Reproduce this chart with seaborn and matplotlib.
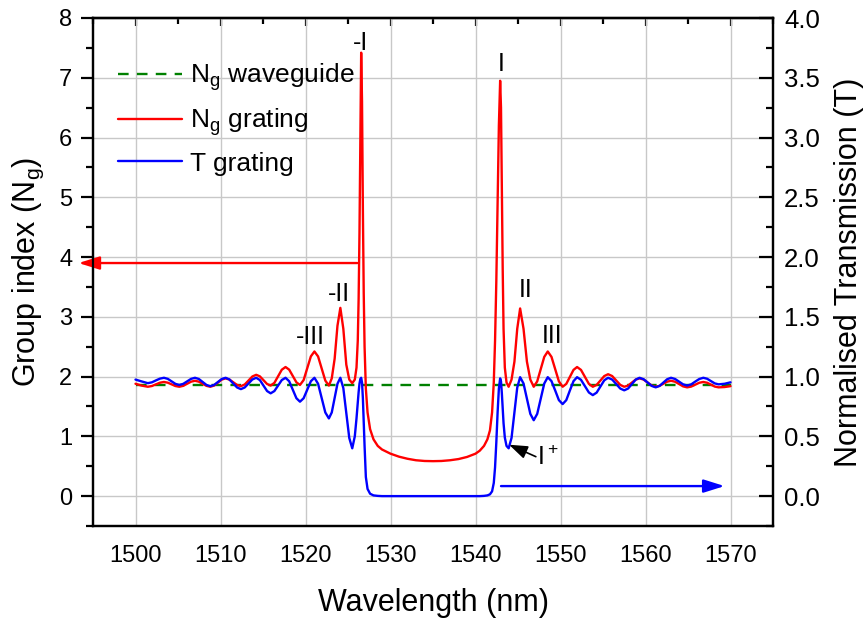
import matplotlib
matplotlib.use("Agg")
import matplotlib.pyplot as plt
import pandas as pd
import seaborn as sns
from matplotlib.ticker import MultipleLocator, FormatStrFormatter

# ---------------------------------------------------------------- data
# wavelength grid (nm) shared by the grating group index and transmission
wavelength = [
    1500.0, 1500.7, 1501.45, 1501.93, 1502.40, 1502.88, 1503.35, 1503.80, 1504.25, 1504.70,
    1505.15, 1505.61, 1506.08, 1506.54, 1507.0, 1507.45, 1507.9, 1508.35, 1508.8, 1509.25,
    1509.7, 1510.15, 1510.6, 1511.05, 1511.5, 1511.95, 1512.4, 1512.85, 1513.3, 1513.75,
    1514.2, 1514.63, 1515.05, 1515.48, 1515.9, 1516.34, 1516.78, 1517.21, 1517.65, 1518.08,
    1518.5, 1518.93, 1519.35, 1519.78, 1520.2, 1520.63, 1521.05, 1521.48, 1521.9, 1522.33,
    1522.75, 1523.09, 1523.43, 1523.76, 1524.1, 1524.45, 1524.8, 1525.15, 1525.5,
    1525.8, 1526.0, 1526.15, 1526.25, 1526.35, 1526.45, 1526.55, 1526.65, 1526.75, 1526.85,
    1526.95, 1527.1, 1527.3, 1527.6, 1528.0, 1528.5, 1529.0, 1530.0, 1531.0, 1532.0,
    1533.0, 1534.0, 1535.0, 1536.0, 1537.0, 1538.0, 1539.0, 1540.0, 1540.5, 1541.0,
    1541.4, 1541.7, 1541.95, 1542.15, 1542.3, 1542.45, 1542.6, 1542.75, 1542.9, 1543.0,
    1543.1, 1543.2, 1543.3, 1543.45, 1543.65, 1543.9,
    1544.24, 1544.58, 1544.91, 1545.25, 1545.65, 1546.05, 1546.45, 1546.85, 1547.26, 1547.68,
    1548.09, 1548.5, 1548.94, 1549.38, 1549.81, 1550.25, 1550.68, 1551.1, 1551.53, 1551.95,
    1552.41, 1552.88, 1553.34, 1553.8, 1554.25, 1554.7, 1555.15, 1555.6, 1556.08, 1556.55,
    1557.03, 1557.5, 1557.95, 1558.4, 1558.85, 1559.3, 1559.78, 1560.25, 1560.73, 1561.2,
    1561.65, 1562.1, 1562.55, 1563.0, 1563.48, 1563.95, 1564.43, 1564.9, 1565.38, 1565.85,
    1566.33, 1566.8, 1567.25, 1567.7, 1568.15, 1568.6, 1569.3, 1570.0,
]

# group index of the grating (left axis)
ng_grating = [
    1.88, 1.85, 1.83, 1.842, 1.87, 1.898, 1.91, 1.898, 1.87, 1.842,
    1.83, 1.845, 1.88, 1.915, 1.93, 1.915, 1.88, 1.845, 1.83, 1.85,
    1.90, 1.95, 1.97, 1.95, 1.905, 1.86, 1.84, 1.868, 1.935, 2.002,
    2.03, 2.004, 1.94, 1.876, 1.85, 1.895, 2.005, 2.115, 2.16, 2.116,
    2.01, 1.904, 1.86, 1.942, 2.14, 2.338, 2.42, 2.337, 2.135, 1.933,
    1.85, 1.97, 2.30, 2.85, 3.15, 2.8, 2.2, 1.95, 1.89,
    1.95, 2.15, 2.6, 3.3, 4.4, 6.0, 7.42, 6.6, 4.8, 3.4,
    2.5, 1.8, 1.4, 1.12, 0.95, 0.84, 0.78, 0.71, 0.66, 0.625,
    0.60, 0.588, 0.585, 0.588, 0.60, 0.62, 0.655, 0.71, 0.76, 0.84,
    0.95, 1.1, 1.4, 1.9, 2.6, 3.6, 4.9, 6.2, 6.95, 6.5,
    5.2, 3.8, 2.8, 2.15, 1.9, 1.83,
    1.95, 2.25, 2.8, 3.14, 2.8, 2.25, 1.95, 1.83, 1.92, 2.125,
    2.33, 2.42, 2.33, 2.125, 1.92, 1.83, 1.878, 1.995, 2.112, 2.16,
    2.112, 1.995, 1.878, 1.83, 1.861, 1.935, 2.009, 2.04, 2.009, 1.935,
    1.861, 1.83, 1.85, 1.90, 1.95, 1.97, 1.95, 1.90, 1.85, 1.83,
    1.845, 1.88, 1.915, 1.93, 1.914, 1.875, 1.836, 1.82, 1.833, 1.865,
    1.897, 1.91, 1.897, 1.865, 1.833, 1.82, 1.825, 1.84,
]

# normalised transmission of the grating (right axis)
t_grating = [
    0.975, 0.96, 0.945, 0.952, 0.968, 0.983, 0.99, 0.981, 0.96, 0.939,
    0.93, 0.939, 0.96, 0.981, 0.99, 0.98, 0.955, 0.93, 0.92, 0.93,
    0.955, 0.98, 0.99, 0.976, 0.943, 0.909, 0.895, 0.909, 0.943, 0.976,
    0.99, 0.971, 0.925, 0.879, 0.86, 0.879, 0.925, 0.971, 0.99, 0.961,
    0.89, 0.819, 0.79, 0.819, 0.89, 0.961, 0.99, 0.94, 0.82, 0.70,
    0.65, 0.70, 0.82, 0.94, 0.99, 0.904, 0.695, 0.486, 0.40,
    0.50, 0.65, 0.78, 0.87, 0.94, 0.98, 0.99, 0.95, 0.82, 0.62,
    0.42, 0.16, 0.06, 0.02, 0.006, 0.002, 0.0, 0.0, 0.0, 0.0,
    0.0, 0.0, 0.0, 0.0, 0.0, 0.0, 0.0, 0.0, 0.0, 0.002,
    0.006, 0.015, 0.04, 0.11, 0.24, 0.45, 0.70, 0.90, 0.985, 0.96,
    0.86, 0.73, 0.61, 0.49, 0.42, 0.40,
    0.487, 0.70, 0.908, 0.995, 0.942, 0.815, 0.688, 0.635, 0.688, 0.815,
    0.942, 0.995, 0.962, 0.883, 0.803, 0.77, 0.803, 0.883, 0.962, 0.995,
    0.973, 0.92, 0.867, 0.845, 0.866, 0.918, 0.969, 0.99, 0.975, 0.938,
    0.90, 0.885, 0.90, 0.938, 0.975, 0.99, 0.978, 0.95, 0.922, 0.91,
    0.922, 0.95, 0.978, 0.99, 0.98, 0.958, 0.935, 0.925, 0.935, 0.958,
    0.98, 0.99, 0.982, 0.963, 0.943, 0.935, 0.94, 0.952,
]

# group index of the bare waveguide
wg_wavelength = [1500.0, 1570.0]
ng_waveguide = [1.86, 1.86]

# resonance labels: text, wavelength, group index of the baseline
peak_labels = ["-I", "-II", "-III", "I", "II", "III"]
peak_label_wl = [1526.5, 1523.9, 1520.6, 1543.0, 1545.9, 1549.05]
peak_label_ng = [7.47, 3.26, 2.55, 7.12, 3.33, 2.57]

# axis-pointing arrows
ng_arrow_wl = [1526.1, 1493.3]
ng_arrow_level = 3.9
t_arrow_wl = [1543.0, 1569.3]
t_arrow_level = 0.084

assert len(wavelength) == len(ng_grating) == len(t_grating)

grating = pd.DataFrame({"wavelength": wavelength,
                        "ng": ng_grating,
                        "t": t_grating})
waveguide = pd.DataFrame({"wavelength": wg_wavelength, "ng": ng_waveguide})

# ---------------------------------------------------------------- style
sns.set_style("white")
plt.rcParams["font.family"] = ["Liberation Sans", "DejaVu Sans"]
plt.rcParams["mathtext.default"] = "regular"
for key in ("text.color", "axes.labelcolor", "xtick.color", "ytick.color",
            "axes.edgecolor"):
    plt.rcParams[key] = "black"

fig = plt.figure(figsize=(8.65, 6.23), dpi=100)
ax = fig.add_axes([93 / 865, 97 / 623, 680 / 865, 508 / 623])
ax2 = ax.twinx()

RED = "#ff0000"
BLUE = "#0000ff"
GREEN = "#008000"

sns.lineplot(data=waveguide, x="wavelength", y="ng", ax=ax, color=GREEN,
             lw=1.7, linestyle=(0, (4.5, 3.5)), sort=False, estimator=None,
             label=r"N$_g$ waveguide", legend=False)
sns.lineplot(data=grating, x="wavelength", y="ng", ax=ax, color=RED,
             lw=1.7, sort=False, estimator=None, label=r"N$_g$ grating",
             legend=False)
sns.lineplot(data=grating, x="wavelength", y="t", ax=ax2, color=BLUE,
             lw=1.7, sort=False, estimator=None, label="T grating",
             legend=False)

# axes ranges
ax.set_xlim(1495, 1575)
ax.set_ylim(-0.5, 8)
ax2.set_ylim(-0.25, 4)

ax.xaxis.set_major_locator(MultipleLocator(10))
ax.xaxis.set_minor_locator(MultipleLocator(5))
ax.yaxis.set_major_locator(MultipleLocator(1))
ax.yaxis.set_minor_locator(MultipleLocator(0.5))
ax2.yaxis.set_major_locator(MultipleLocator(0.5))
ax2.yaxis.set_minor_locator(MultipleLocator(0.25))
ax2.yaxis.set_major_formatter(FormatStrFormatter("%.1f"))

ax.grid(True, which="major", color="#c8c8c8", lw=1.0)
ax.set_axisbelow(True)

for a in (ax, ax2):
    for s in a.spines.values():
        s.set_linewidth(1.6)
        s.set_color("black")

ax.tick_params(axis="both", which="major", direction="out", length=9,
               width=1.6, labelsize=17, color="black", labelcolor="black")
ax.tick_params(axis="both", which="minor", direction="out", length=5,
               width=1.6, color="black")
ax.tick_params(axis="x", top=False, pad=5)
ax.tick_params(axis="y", right=False, pad=6)
ax2.tick_params(axis="y", which="major", direction="in", length=10,
                width=1.6, labelsize=18.5, pad=8, labelcolor="black")
ax2.tick_params(axis="y", which="minor", direction="in", length=5,
                width=1.6)

top = ax.secondary_xaxis("top")
top.xaxis.set_major_locator(MultipleLocator(10))
top.xaxis.set_minor_locator(MultipleLocator(5))
top.tick_params(which="major", direction="in", length=6, width=1.6,
                labeltop=False)
top.tick_params(which="minor", direction="in", length=4, width=1.6)
top.spines["top"].set_linewidth(1.6)

ax.set_xlabel("Wavelength (nm)", fontsize=22, labelpad=15)
ax.set_ylabel(r"Group index (N$_g$)", fontsize=22, labelpad=9)
ax2.set_ylabel("Normalised Transmission (T)", fontsize=22, labelpad=10)

# resonance order labels
for txt, wl, ng in zip(peak_labels, peak_label_wl, peak_label_ng):
    ax.text(wl, ng, txt, ha="center", va="baseline", fontsize=18)

ax2.text(1547.2, 0.26, r"I$^+$", ha="left", va="baseline", fontsize=18)
ax2.annotate("", xy=(1543.95, 0.43), xytext=(1547.1, 0.33),
             arrowprops=dict(arrowstyle="-|>,head_length=0.7,head_width=0.25",
                             color="black", lw=1.2, mutation_scale=16,
                             shrinkA=0, shrinkB=0))

# arrows pointing to the axis each curve belongs to
ax.annotate("", xy=(ng_arrow_wl[1], ng_arrow_level),
            xytext=(ng_arrow_wl[0], ng_arrow_level),
            arrowprops=dict(arrowstyle="-|>,head_length=0.7,head_width=0.22",
                            color=RED, lw=1.7, mutation_scale=18,
                            shrinkA=0, shrinkB=0), annotation_clip=False)
ax2.annotate("", xy=(t_arrow_wl[1], t_arrow_level),
             xytext=(t_arrow_wl[0], t_arrow_level),
             arrowprops=dict(arrowstyle="-|>,head_length=0.7,head_width=0.22",
                             color=BLUE, lw=1.7, mutation_scale=18,
                             shrinkA=0, shrinkB=0))

handles = ax.get_lines()[:2] + ax2.get_lines()[:1]
labels = [r"N$_g$ waveguide", r"N$_g$ grating", "T grating"]
ax2.legend(handles, labels, loc="upper left", bbox_to_anchor=(0.014, 0.945),
           frameon=False, fontsize=19, handlelength=2.4, handletextpad=0.3,
           labelspacing=0.5, borderaxespad=0.2)

fig.savefig("out.png", dpi=100)
